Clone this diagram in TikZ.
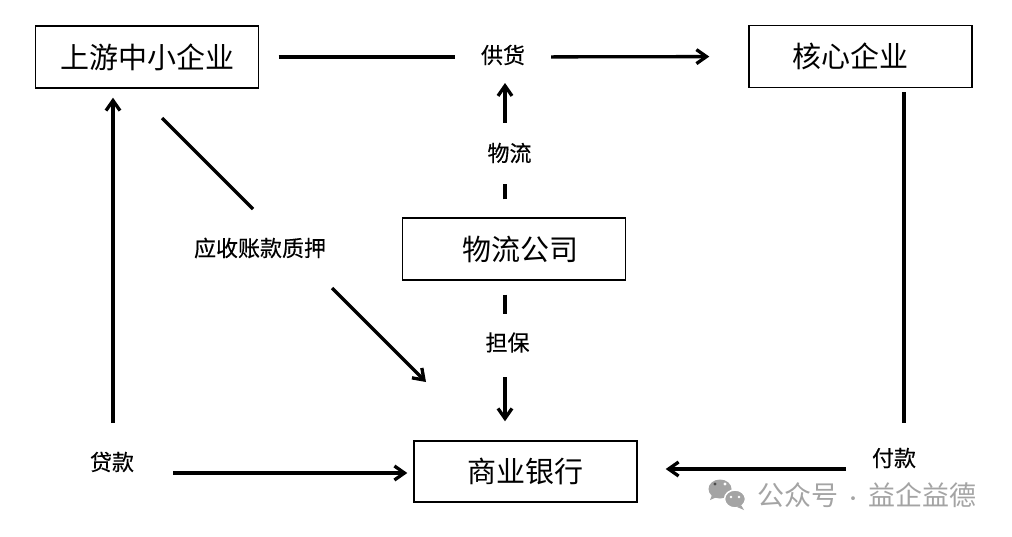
\documentclass[tikz,border=0pt]{standalone}
\usepackage{fontspec}
\setmainfont{Noto Sans CJK SC}
\newfontfamily\lblfont{Noto Sans CJK SC}[FakeBold=0.35]
\usetikzlibrary{arrows.meta}
\definecolor{wmgray}{HTML}{A4A4A4}
\begin{document}
\begin{tikzpicture}[x=1pt,y=-1pt,
  box/.style={draw, line width=1.4pt, minimum width=223pt, minimum height=62pt, inner sep=0pt, font=\fontsize{29}{32}\selectfont},
  lbl/.style={inner sep=0pt, font=\lblfont\fontsize{22}{24}\selectfont},
  conn/.style={line width=3.3pt},
  arr/.style={conn, -{Straight Barb[length=10pt,width=14pt]}}]
\useasboundingbox (0,0) rectangle (1012,536);
\fill[white] (0,0) rectangle (1012,536);

% boxes
\node[box] (up)   at (147,57)    {上游中小企业};
\node[box] (hx)   at (860.5,56.5) {核心企业\hspace*{21pt}};
\node[box] (wlgs) at (514,249)   {\hspace*{12pt}物流公司};
\node[box, minimum height=61pt] (bank) at (525.5,471.5) {商业银行};

% labels
\node[lbl] (gh) at (503,55)  {供货};
\node[lbl] (wl) at (505,153) {\hspace*{9pt}物流};
\node[lbl] (db) at (505,342.5) {\hspace*{5pt}担保};
\node[lbl] (ys) at (260,248) {应收账款质押};
\node[lbl] (dk) at (112,462) {贷款};
\node[lbl] (fk) at (894,458) {付款};

% corner / free-end coordinates
\coordinate (dkc) at (113,473);
\coordinate (fkc) at (904,469);
\coordinate (qa) at (162,118);
\coordinate (qb) at (253,209);
\coordinate (qc) at (332,288);
\coordinate (qd) at (426,382);

% supply line
\draw[conn, shorten <=19.5pt, shorten >=48pt] (up.east) -- (up.east -| gh);
\draw[arr, shorten <=48pt, shorten >=39pt] (up.east -| gh) -- (hx.west);

% logistics
\draw[conn, shorten <=18pt, shorten >=21pt] (wlgs.north -| wl) -- (wl);
\draw[arr, shorten <=20pt, shorten >=28pt] (wl) -- (wl |- gh);

% guarantee
\draw[conn, shorten <=14pt, shorten >=18.5pt] (wlgs.south -| db) -- (db);
\draw[arr, shorten <=24.5pt, shorten >=19pt] (db) -- (db |- bank.north);

% payment
\draw[conn, shorten <=4pt, shorten >=46pt] (hx.south -| fkc) -- (fkc);
\draw[arr, shorten <=58pt, shorten >=28pt] (fkc) -- (fkc -| bank.east);

% loan
\draw[arr, shorten <=50pt, shorten >=9pt] (dkc) -- (dkc |- up.south);
\draw[arr, shorten <=60pt, shorten >=6pt] (dkc) -- (dkc -| bank.west);

% receivables pledge
\draw[conn] (qa) -- (qb);
\draw[arr] (qc) -- (qd);

% watermark
\fill[wmgray] (720,489) ellipse [x radius=11.5pt, y radius=9.5pt];
\fill[wmgray] (712,495) -- (710,500) -- (717,497) -- cycle;
\fill[wmgray, draw=white, line width=1.5pt] (735,499) ellipse [x radius=10.5pt, y radius=9pt];
\fill[wmgray] (741,505) -- (744,510) -- (737,507) -- cycle;
\fill[black!70] (715,484) circle [radius=1.6pt];
\fill[white] (725,484) circle [radius=1.6pt];
\fill[white] (731,497) circle [radius=1.4pt];
\fill[white] (739,497) circle [radius=1.4pt];
\node[inner sep=0pt, text=wmgray, font=\fontsize{27}{30}\selectfont] (wm) at (867,495) {公众号\hspace{6pt}{\fontsize{18}{20}\selectfont ·}\hspace{6pt}益企益德};
\end{tikzpicture}
\end{document}
